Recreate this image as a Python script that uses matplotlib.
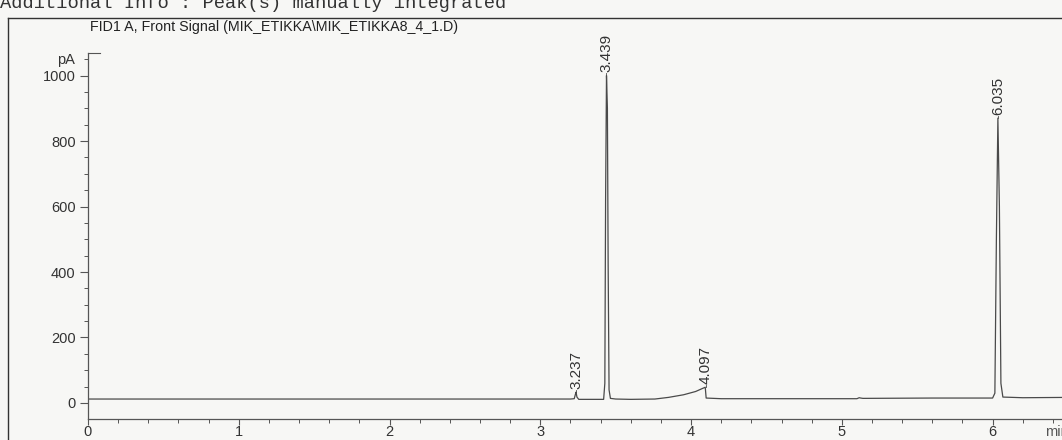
import matplotlib.pyplot as plt
from matplotlib.lines import Line2D

plt.rcParams['font.family'] = ['Liberation Sans', 'DejaVu Sans']

# FID signal trace (time in min, signal in pA)
time = [0.0, 1.0, 2.0, 3.0, 3.2, 3.225, 3.232, 3.237, 3.243, 3.255, 3.3,
        3.42, 3.428, 3.433, 3.439, 3.445, 3.45, 3.456, 3.465, 3.5, 3.6,
        3.76, 3.85, 3.95, 4.03, 4.094, 4.1, 4.2, 4.4, 5.1, 5.115,
        5.125, 5.14, 5.6, 6.0, 6.015, 6.025, 6.035, 6.045, 6.055, 6.068,
        6.2, 6.5]
signal = [12, 12, 12, 12, 12, 13, 25, 33, 18, 11, 11,
          11, 60, 620, 1000, 900, 420, 40, 14, 12, 11,
          12, 17, 25, 35, 48, 15, 13, 13, 13, 16,
          15, 14, 15, 15, 30, 500, 870, 600, 60, 18,
          16, 17]

peak_rt = [3.237, 3.439, 4.097, 6.035]
peak_top = [33, 1000, 48, 870]
peak_labels = ['3.237', '3.439', '4.097', '6.035']

fig = plt.figure(figsize=(10.62, 4.4), dpi=100)
fig.patch.set_facecolor('#f7f7f5')

W, H = 1062, 440
ax = fig.add_axes([88 / W, (H - 419) / H, 980 / W, 366 / H])
ax.set_facecolor('none')
ax.plot(time, signal, color='#4a4a4a', lw=0.9)

for rt, top, lab in zip(peak_rt, peak_top, peak_labels):
    ax.plot([rt, rt], [top, top + 8], color='#4a4a4a', lw=0.6)
    ax.text(rt, top + 10, lab, rotation=90, ha='center', va='bottom',
            fontsize=11, color='#333333')

ax.set_xlim(0, 6.5)
ax.set_ylim(-49, 1069)
ax.set_xticks(range(0, 7))
ax.set_xticks([i * 0.2 for i in range(33)], minor=True)
ax.set_yticks(range(0, 1001, 200))
ax.set_yticks(range(0, 1051, 50), minor=True)
for s in ['top', 'right']:
    ax.spines[s].set_visible(False)
for s in ['left', 'bottom']:
    ax.spines[s].set_color('#555555')
    ax.spines[s].set_linewidth(0.9)
ax.tick_params(which='major', length=6, width=0.8, colors='#555555',
               labelsize=10.5, labelcolor='#333333', pad=3)
ax.tick_params(axis='x', which='major', length=4, pad=0.5)
ax.tick_params(which='minor', length=3, width=0.7, colors='#555555')
ax.text(-0.013, 1.0, 'pA', transform=ax.transAxes, ha='right', va='top',
        fontsize=10.5, color='#333333')
ax.plot([0, 0.012], [1069, 1069], color='#555555', lw=0.8, clip_on=False,
        transform=ax.get_yaxis_transform())

fig.text(1045 / W, 1 - 432 / H, 'min', ha='left', va='center',
         fontsize=10.5, color='#555555')

# report frame and headers
fig.add_artist(Line2D([8 / W, 8 / W], [0, 1 - 18 / H], color='#333333', lw=1))
fig.add_artist(Line2D([8 / W, 1], [1 - 18 / H, 1 - 18 / H], color='#333333', lw=1))
fig.text(90 / W, 1 - 27 / H, r'FID1 A, Front Signal (MIK_ETIKKA\MIK_ETIKKA8_4_1.D)',
         ha='left', va='center', fontsize=10.3, color='#222222')
fig.text(0, 1 - 8 / H, 'Additional Info : Peak(s) manually integrated',
         ha='left', va='baseline', fontsize=13.5, family='Liberation Mono',
         color='#333333')

fig.savefig('out.png', dpi=100, facecolor=fig.get_facecolor())
